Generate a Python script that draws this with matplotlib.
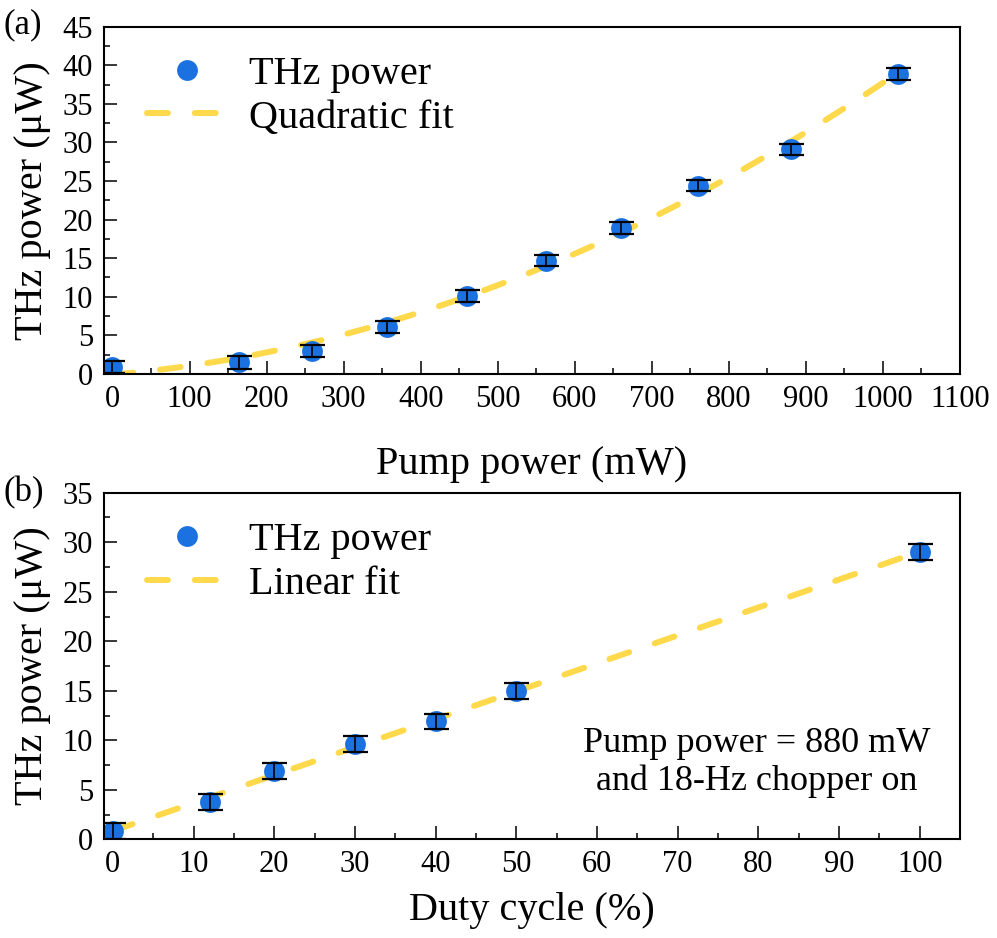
import matplotlib
matplotlib.use("Agg")
import matplotlib.pyplot as plt
import numpy as np
from matplotlib.ticker import MultipleLocator

# ── Data ─────────────────────────────────────────────────────────────
pump_mw = [0, 164, 259, 356, 460, 563, 660, 760, 880, 1020]
thz_a = [0.9, 1.5, 3.0, 6.1, 10.1, 14.7, 18.9, 24.4, 29.1, 38.9]
err_a = [0.75, 0.8, 0.75, 0.75, 0.75, 0.75, 0.75, 0.75, 0.75, 0.75]

duty_pct = [0, 12, 20, 30, 40, 50, 100]
thz_b = [0.8, 3.8, 6.9, 9.6, 11.9, 15.0, 29.0]
err_b = [0.8, 0.8, 0.8, 0.8, 0.8, 0.8, 0.8]

BLUE = "#1b71e0"
YELLOW = "#ffd94c"
LABEL_SIZE = 29

plt.rcParams["font.family"] = ["Liberation Serif", "DejaVu Serif"]

fig = plt.figure(figsize=(9.97, 9.38), dpi=100)
ax_a = fig.add_axes([0.1043, 0.6013, 0.8586, 0.3703])
ax_b = fig.add_axes([0.1043, 0.1052, 0.8586, 0.3695])


def draw_panel(ax, x, y, err, fit_deg, fit_label):
    coef = np.polyfit(x, y, fit_deg)
    xf = np.linspace(0, max(x), 200)
    ax.plot(xf, np.polyval(coef, xf), color=YELLOW, lw=4.3,
            linestyle=(0, (3.5, 4.5)), dash_capstyle="round",
            label=fit_label, zorder=1)
    ax.plot(x, y, "o", color=BLUE, ms=15, mew=0, label="THz power",
            zorder=2)
    ax.errorbar(x, y, yerr=err, fmt="none", ecolor="black", elinewidth=1.2,
                capsize=9, capthick=1.6, zorder=3)

    for s in ax.spines.values():
        s.set_linewidth(1.5)
    ax.tick_params(which="both", direction="in", top=False, right=False,
                   labelsize=22, width=1.1, pad=8)
    ax.tick_params(which="major", length=9.5)
    ax.tick_params(which="minor", length=4.5)

    handles, labels = ax.get_legend_handles_labels()
    ax.legend(handles[::-1], labels[::-1], loc="upper left",
              bbox_to_anchor=(0.05, 0.915), borderaxespad=0, borderpad=0,
              frameon=False, fontsize=LABEL_SIZE, handlelength=2.0,
              handletextpad=0.55, labelspacing=0.15)


# ── (a) pump power ───────────────────────────────────────────────────
draw_panel(ax_a, pump_mw, thz_a, err_a, 2, "Quadratic fit")
ax_a.set_xlim(-11, 1100)
ax_a.set_ylim(0, 45)
ax_a.xaxis.set_major_locator(MultipleLocator(100))
ax_a.xaxis.set_minor_locator(MultipleLocator(50))
ax_a.yaxis.set_major_locator(MultipleLocator(5))
ax_a.yaxis.set_minor_locator(MultipleLocator(2.5))
ax_a.set_xlabel("Pump power (mW)", fontsize=LABEL_SIZE)
ax_a.set_ylabel("THz power (μW)", fontsize=LABEL_SIZE)
ax_a.xaxis.set_label_coords(0.5, -0.262)
ax_a.xaxis.label.set_va("center")
ax_a.yaxis.set_label_coords(-0.084, 0.5)
ax_a.yaxis.label.set_va("center")

# ── (b) duty cycle ───────────────────────────────────────────────────
draw_panel(ax_b, duty_pct, thz_b, err_b, 1, "Linear fit")
ax_b.set_xlim(-1.1, 105)
ax_b.set_ylim(0, 35)
ax_b.xaxis.set_major_locator(MultipleLocator(10))
ax_b.xaxis.set_minor_locator(MultipleLocator(5))
ax_b.yaxis.set_major_locator(MultipleLocator(5))
ax_b.yaxis.set_minor_locator(MultipleLocator(2.5))
ax_b.set_xlabel("Duty cycle (%)", fontsize=LABEL_SIZE)
ax_b.set_ylabel("THz power (μW)", fontsize=LABEL_SIZE)
ax_b.xaxis.set_label_coords(0.5, -0.204)
ax_b.xaxis.label.set_va("center")
ax_b.yaxis.set_label_coords(-0.084, 0.5)
ax_b.yaxis.label.set_va("center")
ax_b.text(0.763, 0.222, "Pump power = 880 mW\nand 18-Hz chopper on",
          transform=ax_b.transAxes, ha="center", va="center", fontsize=26,
          linespacing=1.2)

fig.text(0.004, 1 - 25 / 938, "(a)", fontsize=25, va="center", ha="left")
fig.text(0.004, 1 - 493 / 938, "(b)", fontsize=25, va="center", ha="left")

fig.savefig("out.png", dpi=100)
